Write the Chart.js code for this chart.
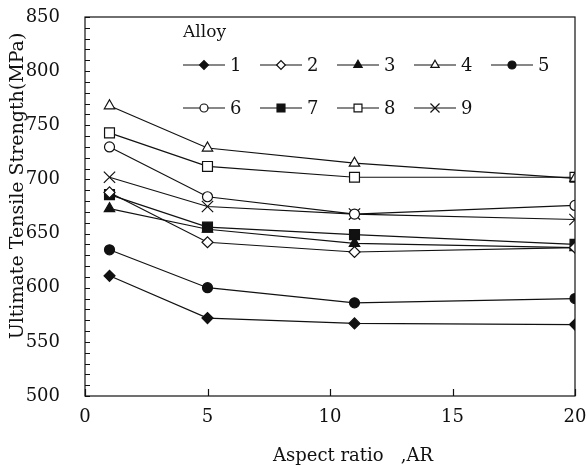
<!DOCTYPE html>
<html>
<head>
<meta charset="utf-8">
<script src="https://cdn.jsdelivr.net/npm/chart.js@4.4.1/dist/chart.umd.min.js"></script>
<style>
  html, body { margin: 0; padding: 0; background: #fff; }
  #wrap { width: 587px; height: 466px; }
</style>
</head>
<body>
<div id="wrap"><canvas id="myChart" width="587" height="466"></canvas></div>
<script>
// data
const aspectRatios = [1, 5, 11, 20];
const alloyNames = ['1', '2', '3', '4', '5', '6', '7', '8', '9'];
const alloy1 = [611, 572, 567, 566];
const alloy2 = [688, 642, 633, 637];
const alloy3 = [673, 654, 641, 637];
const alloy4 = [768, 729, 715, 701];
const alloy5 = [635, 600, 586, 590];
const alloy6 = [730, 684, 668, 676];
const alloy7 = [686, 656, 649, 640];
const alloy8 = [743, 712, 702, 702];
const alloy9 = [702, 675, 668, 663];
const yTicks = [500, 550, 600, 650, 700, 750, 800, 850];
const xTicks = [0, 5, 10, 15, 20];

const allSeries = [alloy1, alloy2, alloy3, alloy4, alloy5, alloy6, alloy7, alloy8, alloy9];
// marker style per alloy
const markers = [
  { style: 'rectRot', fill: true, r: 5.5 },
  { style: 'rectRot', fill: false, r: 5.5 },
  { style: 'triangle', fill: true, r: 6 },
  { style: 'triangle', fill: false, r: 6 },
  { style: 'circle', fill: true, r: 5 },
  { style: 'circle', fill: false, r: 5 },
  { style: 'rect', fill: true, r: 7 },
  { style: 'rect', fill: false, r: 7 },
  { style: 'crossRot', fill: false, r: 8 }
];

const serif = "'DejaVu Serif', 'Liberation Serif', serif";
Chart.defaults.font.family = serif;
Chart.defaults.color = '#111';

const datasets = allSeries.map(function (vals, i) {
  return {
    label: alloyNames[i],
    data: vals.map(function (v, j) { return { x: aspectRatios[j], y: v }; }),
    borderColor: '#111',
    borderWidth: 1.2,
    pointStyle: markers[i].style,
    pointRadius: markers[i].r,
    pointBorderWidth: 1.2,
    pointBorderColor: '#111',
    pointBackgroundColor: markers[i].fill ? '#111' : '#fff',
    tension: 0
  };
});

// box, inward ticks, axis titles and legend block
const framePlugin = {
  id: 'frame',
  afterDraw: function (chart) {
    const ctx = chart.ctx;
    const a = chart.chartArea;
    const xs = chart.scales.x;
    const ys = chart.scales.y;
    ctx.save();
    ctx.strokeStyle = '#111';
    ctx.lineWidth = 1.2;
    ctx.strokeRect(a.left, a.top, a.right - a.left, a.bottom - a.top);
    ctx.beginPath();
    for (let v = 500; v <= 850; v += 10) {
      const py = Math.round(ys.getPixelForValue(v)) + 0.5;
      ctx.moveTo(a.left, py);
      ctx.lineTo(a.left + 5, py);
    }
    xTicks.forEach(function (v) {
      const px = Math.round(xs.getPixelForValue(v)) + 0.5;
      ctx.moveTo(px, a.bottom);
      ctx.lineTo(px, a.bottom - 7);
    });
    ctx.stroke();

    // axis titles
    ctx.fillStyle = '#111';
    ctx.textAlign = 'center';
    ctx.textBaseline = 'middle';
    ctx.font = '18px ' + serif;
    ctx.fillText('Aspect ratio\u00a0\u00a0\u00a0,AR', 353, 456);
    ctx.save();
    ctx.translate(18, 186);
    ctx.rotate(-Math.PI / 2);
    ctx.font = '19px ' + serif;
    ctx.fillText('Ultimate Tensile Strength(MPa)', 0, 0);
    ctx.restore();

    // legend
    ctx.font = '17px ' + serif;
    ctx.textAlign = 'left';
    ctx.fillText('Alloy', a.left + 98, a.top + 16);
    ctx.font = '18px ' + serif;
    chart.data.datasets.forEach(function (ds, i) {
      const row = i < 5 ? 0 : 1;
      const col = i < 5 ? i : i - 5;
      const x0 = a.left + 98 + col * 77;
      const y0 = a.top + 48 + row * 43;
      ctx.beginPath();
      ctx.lineWidth = 1.2;
      ctx.strokeStyle = '#111';
      ctx.moveTo(x0, y0);
      ctx.lineTo(x0 + 42, y0);
      ctx.stroke();
      ctx.fillStyle = ds.pointBackgroundColor;
      ctx.strokeStyle = '#111';
      Chart.helpers.drawPoint(ctx, {
        pointStyle: ds.pointStyle,
        radius: ds.pointRadius * 0.8,
        rotation: 0,
        borderWidth: 1.2
      }, x0 + 21, y0);
      ctx.fillStyle = '#111';
      ctx.fillText(ds.label, x0 + 47, y0 + 1);
    });
    ctx.restore();
  }
};

const ctx = document.getElementById('myChart').getContext('2d');
const myChart = new Chart(ctx, {
  type: 'line',
  data: { datasets: datasets },
  options: {
    responsive: false,
    animation: false,
    layout: { padding: { top: 17, right: 12, left: 0, bottom: 0 } },
    plugins: {
      legend: { display: false },
      tooltip: { enabled: false }
    },
    scales: {
      x: {
        type: 'linear',
        min: 0,
        max: 20,
        grid: { display: false },
        border: { display: false },
        afterBuildTicks: function (scale) {
          scale.ticks = xTicks.map(function (v) { return { value: v }; });
        },
        afterFit: function (scale) {
          scale.height = 70;
          scale.paddingLeft = 0;
          scale.paddingRight = 0;
        },
        ticks: { padding: 3, font: { size: 18 }, maxRotation: 0 }
      },
      y: {
        min: 500,
        max: 850,
        grid: { display: false },
        border: { display: false },
        afterBuildTicks: function (scale) {
          scale.ticks = yTicks.map(function (v) { return { value: v }; });
        },
        afterFit: function (scale) {
          scale.width = 85;
          scale.paddingTop = 0;
          scale.paddingBottom = 0;
        },
        ticks: { padding: 17, font: { size: 18 } }
      }
    }
  },
  plugins: [framePlugin]
});
</script>
</body>
</html>
